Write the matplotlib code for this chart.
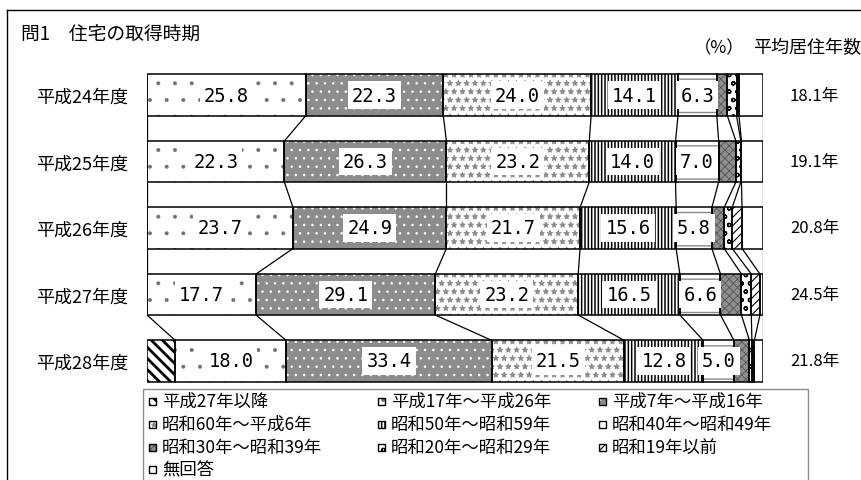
import matplotlib
matplotlib.use("Agg")
import matplotlib.pyplot as plt
import matplotlib.transforms as mtransforms
from matplotlib.patches import Rectangle
from matplotlib.lines import Line2D

plt.rcParams['font.family'] = ['Noto Sans CJK JP', 'DejaVu Sans']

# ---------------- data ----------------
years = ['平成24年度', '平成25年度', '平成26年度', '平成27年度', '平成28年度']
categories = ['平成27年以降', '平成17年～平成26年', '平成7年～平成16年',
              '昭和60年～平成6年', '昭和50年～昭和59年', '昭和40年～昭和49年',
              '昭和30年～昭和39年', '昭和20年～昭和29年', '昭和19年以前', '無回答']
h27_later = [0.0, 0.0, 0.0, 0.0, 4.6]
h17_26 = [25.8, 22.3, 23.7, 17.7, 18.0]
h7_16 = [22.3, 26.3, 24.9, 29.1, 33.4]
s60_h6 = [24.0, 23.2, 21.7, 23.2, 21.5]
s50_59 = [14.1, 14.0, 15.6, 16.5, 12.8]
s40_49 = [6.3, 7.0, 5.8, 6.6, 5.0]
s30_39 = [1.7, 2.8, 2.0, 3.4, 2.5]
s20_29 = [1.5, 0.8, 1.3, 1.6, 0.4]
s19_before = [0.4, 0.1, 1.6, 1.4, 0.4]
no_answer = [3.9, 3.5, 3.4, 0.5, 1.4]
avg_years = [18.1, 19.1, 20.8, 24.5, 21.8]

series = [h27_later, h17_26, h7_16, s60_h6, s50_59, s40_49,
          s30_39, s20_29, s19_before, no_answer]
labelled = [False, True, True, True, True, True, False, False, False, False]

# styles: (face, hatch, hatch colour, hatch linewidth)
styles = [
    ('white', '\\\\\\', 'black', 2.0),
    ('white', '.', '#707070', 0.4),
    ('#8c8c8c', '..', 'white', 0.6),
    ('white', '**', '#8a8a8a', 0.5),
    ('white', '|||||', 'black', 1.1),
    ('white', '--', '#8a8a8a', 1.0),
    ('#8f8f8f', 'xxxx', '#555555', 0.6),
    ('white', 'oo', 'black', 0.9),
    ('white', '////', 'black', 0.8),
    ('white', None, 'black', 1.0),
]

W, H = 862, 481
fig = plt.figure(figsize=(W / 100, H / 100), dpi=100)


def fx(x):
    return x / W


def fy(y):
    return 1 - y / H


top_px, bot_px = 62.75, 395.25
ax = fig.add_axes([fx(147), fy(bot_px), fx(763) - fx(147), fy(top_px) - fy(bot_px)])
ax.set_xlim(0, 100)
ax.set_ylim(4.5, -0.5)
for s in ax.spines.values():
    s.set_visible(False)
ax.set_xticks([])
ax.set_yticks(range(len(years)), years, fontsize=13)
ax.tick_params(axis='y', length=0, pad=13.5)

bar_h = 0.617
ypos = list(range(len(years)))
lefts = [0.0] * len(years)
ends = []
for k, vals in enumerate(series):
    face, hatch, hcol, hlw = styles[k]
    with plt.rc_context({'hatch.linewidth': hlw}):
        bars = ax.barh(ypos, vals, left=lefts, height=bar_h, color=face,
                       hatch=hatch, edgecolor=hcol, linewidth=0, zorder=2)
        for b in bars:
            if hasattr(b, 'set_hatch_linewidth'):
                b.set_hatch_linewidth(hlw)
    ax.barh(ypos, vals, left=lefts, height=bar_h, fill=False,
            edgecolor='black', linewidth=1.1, zorder=3)
    if labelled[k]:
        for i, v in enumerate(vals):
            if v >= 5:
                ax.text(lefts[i] + v / 2, i, f'{v:.1f}', ha='center', va='center',
                        fontsize=13.5, family='DejaVu Sans Mono', zorder=4,
                        bbox=dict(boxstyle='square,pad=0.22', fc='white', ec='none'))
    lefts = [l + v for l, v in zip(lefts, vals)]
    ends.append(list(lefts))

# series lines between bars
for k in range(len(series)):
    for i in range(len(years) - 1):
        ax.plot([ends[k][i], ends[k][i + 1]], [i + bar_h / 2, i + 1 - bar_h / 2],
                color='black', lw=0.9, zorder=1, solid_capstyle='butt')

# average years on right
trans = mtransforms.blended_transform_factory(ax.transAxes, ax.transData)
for i, v in enumerate(avg_years):
    ax.text((790 - 147) / 616, i, f'{v}年', transform=trans, ha='left',
            va='center', fontsize=12)

# title and header
fig.text(fx(21), fy(35), '問1\u3000住宅の取得時期', ha='left', va='center', fontsize=13.5)
fig.text(fx(694), fy(48), '（%）', ha='left', va='center', fontsize=12.5)
fig.text(fx(753), fy(48), '平均居住年数', ha='left', va='center', fontsize=13)

# outer frame (partially visible)
fig.add_artist(Line2D([fx(7), 1.0], [fy(11), fy(11)], color='black', lw=1.0))
fig.add_artist(Line2D([fx(7), fx(7)], [0, fy(11)], color='black', lw=1.0))

# legend
fig.add_artist(Rectangle((fx(143), -0.02), fx(808) - fx(143), fy(390) + 0.02,
                         transform=fig.transFigure, fill=False,
                         edgecolor='#8c8c8c', lw=1.0))
col_marker = [153, 382, 603]
col_text = [162, 391, 612]
row_y = [402, 425, 448, 470]
for k, name in enumerate(categories):
    r, c = divmod(k, 3)
    face, hatch, hcol, hlw = styles[k]
    mx, my = col_marker[c], row_y[r]
    with plt.rc_context({'hatch.linewidth': hlw}):
        p = Rectangle((fx(mx - 3.5), fy(my + 3.5)), 7 / W, 7 / H,
                      transform=fig.transFigure, facecolor=face, hatch=hatch,
                      edgecolor=hcol, lw=0)
        if hasattr(p, 'set_hatch_linewidth'):
            p.set_hatch_linewidth(hlw)
    fig.add_artist(p)
    fig.add_artist(Rectangle((fx(mx - 3.5), fy(my + 3.5)), 7 / W, 7 / H,
                             transform=fig.transFigure, fill=False,
                             edgecolor='black', lw=1.0))
    fig.text(fx(col_text[c]), fy(my), name, ha='left', va='center', fontsize=12.5)

fig.savefig('out.png', dpi=100)
